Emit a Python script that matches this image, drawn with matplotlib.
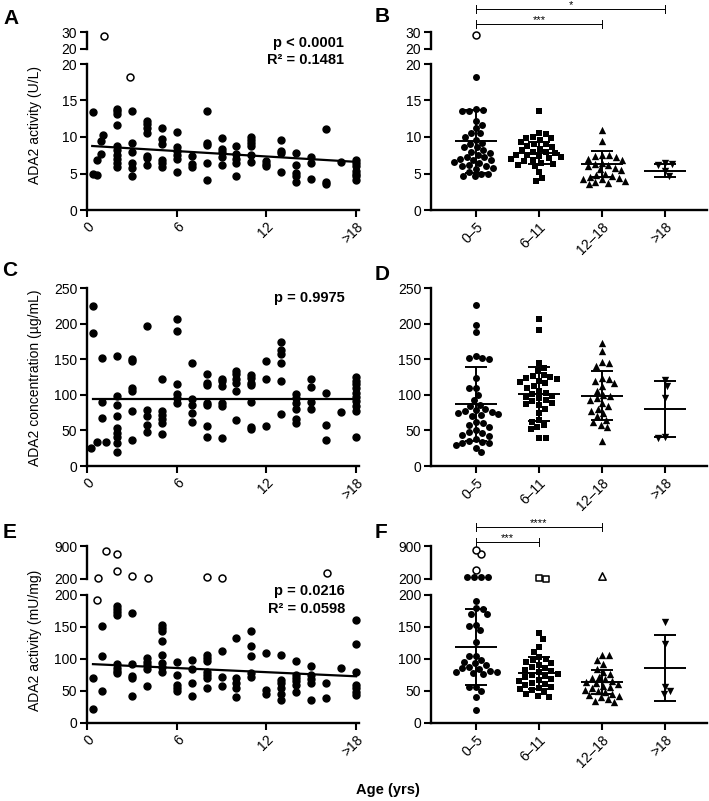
import matplotlib
matplotlib.use("Agg")
import matplotlib.pyplot as plt
import matplotlib.transforms as mtransforms
import numpy as np

plt.rcParams["font.family"] = ["Liberation Sans", "DejaVu Sans"]

W, H = 709, 801

# ---- panel A: ADA2 activity (U/L) vs age ----
a_age = [0.4, 0.4, 0.65, 0.7, 0.95, 1.05, 0.95,
         2, 2, 2, 2, 2, 2, 2, 2, 2, 2,
         3, 3, 3, 3, 3, 3,
         4, 4, 4, 4, 4, 4, 4,
         5, 5, 5, 5, 5, 5,
         6, 6, 6, 6, 6, 6,
         7, 7, 7,
         8, 8, 8, 8, 8,
         9, 9, 9, 9, 9,
         10, 10, 10, 10, 10,
         11, 11, 11, 11, 11, 11,
         12, 12, 12,
         13, 13, 13, 13,
         14, 14, 14, 14, 14,
         15, 15, 15,
         16, 16, 16,
         17,
         18, 18, 18, 18, 18, 18, 18]
a_val = [13.4, 4.9, 4.8, 6.8, 9.5, 10.3, 7.7,
         13.8, 13.5, 13.2, 11.7, 8.8, 8.2, 7.6, 7.05, 6.5, 5.9,
         13.5, 9.2, 8.0, 6.4, 5.8, 4.6,
         12.2, 11.8, 11.2, 10.6, 7.4, 7.1, 6.1,
         11.3, 9.7, 9.1, 6.85, 6.4, 5.9,
         10.7, 8.6, 8.1, 7.5, 7.0, 5.2,
         7.4, 6.3, 5.9,
         13.5, 9.2, 8.9, 6.4, 4.1,
         9.9, 8.4, 7.9, 7.3, 6.1,
         8.7, 7.7, 7.0, 6.4, 4.6,
         10.0, 9.6, 9.2, 8.8, 7.5, 6.6,
         6.75, 6.3, 6.0,
         9.6, 8.1, 7.8, 5.2,
         7.8, 6.1, 5.1, 4.6, 3.9,
         7.2, 6.4, 4.3,
         11.1, 3.9, 3.5,
         6.6,
         6.85, 6.4, 6.0, 5.4, 4.9, 4.6, 4.1]
a_open_age = [1.15, 2.9]
a_open_val = [27.8, 18.2]
a_fit = (8.81, -0.123)
a_fit_x = [0.35, 18]

# ---- panel C: ADA2 concentration vs age ----
c_age = [0.4, 0.4, 0.3, 0.7, 1.0, 1.0, 1.0, 1.25,
         2, 2, 2, 2, 2, 2, 2, 2, 2,
         3, 3, 3, 3, 3, 3,
         4, 4, 4, 4, 4,
         5, 5, 5, 5, 5, 5,
         6, 6, 6, 6, 6, 6,
         7, 7, 7, 7, 7,
         8, 8, 8, 8, 8, 8, 8,
         9, 9, 9, 9, 9, 9,
         10, 10, 10, 10, 10, 10,
         11, 11, 11, 11, 11, 11, 11,
         12, 12, 12,
         13, 13, 13, 13, 13, 13,
         14, 14, 14, 14, 14, 14,
         15, 15, 15, 15,
         16, 16, 16,
         17,
         18, 18, 18, 18, 18, 18, 18, 18, 18, 18]
c_val = [225, 187, 25, 34, 151, 90, 68, 34,
         154, 98, 86, 70, 53, 47, 41, 32, 19,
         150, 147, 110, 105, 77, 37,
         197, 79, 70, 57, 48,
         122, 77, 72, 66, 60, 45,
         206, 190, 115, 101, 96, 89,
         144, 94, 86, 74, 62,
         129, 117, 114, 89, 86, 56, 41,
         122, 119, 112, 88, 84, 40,
         134, 129, 122, 117, 105, 65,
         128, 124, 117, 114, 90, 55, 52,
         147, 122, 56,
         174, 163, 157, 145, 120, 73,
         101, 95, 89, 80, 66, 61,
         122, 111, 90, 80,
         102, 58, 37,
         76,
         125, 120, 115, 109, 103, 97, 91, 84, 77, 41]
c_fit = (94.5, 0.0)
c_fit_x = [0.4, 18]

# ---- panel E: ADA2 activity (mU/mg) vs age ----
e_age = [0.4, 0.4, 1, 1, 1,
         2, 2, 2, 2, 2, 2, 2, 2,
         3, 3, 3, 3, 3,
         4, 4, 4, 4, 4,
         5, 5, 5, 5, 5, 5, 5, 5,
         6, 6, 6, 6, 6,
         7, 7, 7, 7,
         8, 8, 8, 8, 8, 8, 8,
         9, 9, 9,
         10, 10, 10, 10, 10,
         11, 11, 11, 11, 11,
         12, 12, 12,
         13, 13, 13, 13, 13, 13,
         14, 14, 14, 14, 14, 14,
         15, 15, 15, 15, 15,
         16, 16,
         17,
         18, 18, 18, 18, 18, 18, 18]
e_val = [71, 22, 152, 105, 50,
         183, 178, 173, 168, 92, 86, 81, 78,
         172, 92, 74, 71, 42,
         101, 96, 91, 85, 58,
         153, 148, 143, 128, 107, 93, 88, 80,
         95, 75, 60, 55, 50,
         98, 85, 63, 42,
         107, 102, 97, 80, 75, 70, 54,
         112, 72, 58,
         133, 70, 62, 54, 41,
         143, 121, 104, 78, 72,
         109, 52, 46,
         107, 67, 62, 55, 46, 36,
         97, 75, 70, 65, 59, 49,
         89, 75, 69, 62, 36,
         62, 39,
         86,
         161, 123, 80, 59, 54, 49, 44]
e_open_age = [0.65, 0.75, 1.3, 2.0, 2.0, 3.0, 4.05, 8.05, 9.05, 16.05]
e_open_val = [192, 215, 800, 730, 380, 265, 230, 250, 230, 320]
e_fit = (92.4, -1.08)
e_fit_x = [0.4, 18]

# ---- grouped panels B, D, F ----
groups = ["0–5", "6–11", "12–18", ">18"]
group_markers = ["o", "s", "^", "v"]

b_05 = [18.2, 13.9, 13.7, 13.5, 13.5, 12.2, 11.7, 11.2, 10.5, 10.5, 10.0, 9.6,
        9.2, 9.0, 8.6, 8.6, 8.2, 8.0, 7.8, 7.6, 7.3, 7.2, 7.0, 6.9, 6.8, 6.6,
        6.4, 6.2, 6.0, 6.0, 5.8, 5.6, 5.2, 5.0, 4.9, 4.7, 4.6]
b_611 = [13.5, 10.6, 10.4, 10.0, 9.9, 9.8, 9.6, 9.3, 9.1, 9.0, 8.8, 8.6, 8.4,
         8.2, 8.0, 7.9, 7.8, 7.6, 7.5, 7.4, 7.3, 7.1, 7.0, 6.9, 6.7, 6.5, 6.3,
         6.2, 6.0, 5.2, 4.4, 4.0]
b_1218 = [11.0, 9.4, 7.6, 7.5, 7.4, 7.3, 7.0, 6.8, 6.5, 6.3, 6.2, 6.0, 5.8,
          5.6, 5.5, 5.0, 4.8, 4.6, 4.5, 4.4, 4.3, 4.2, 4.0, 3.8, 3.7, 3.5]
b_18 = [6.4, 6.3, 6.2, 5.3, 4.6]
b_open = [[28.0], [], [], []]
b_mean = [9.4, 7.85, 6.3, 5.4]
b_sd = [4.3, 1.5, 1.8, 0.85]

d_05 = [226, 198, 188, 155, 151, 150, 151, 123, 109, 109, 100, 92, 86, 84, 80,
        78, 77, 76, 75, 73, 72, 70, 62, 60, 58, 55, 50, 48, 46, 44, 42, 38, 35,
        34, 33, 32, 30, 25, 19]
d_611 = [207, 191, 145, 138, 133, 128, 126, 125, 124, 122, 120, 118, 116, 113,
         110, 105, 103, 101, 99, 97, 95, 93, 91, 89, 87, 85, 80, 75, 65, 62, 58,
         55, 52, 40, 40]
d_1218 = [173, 162, 146, 145, 140, 124, 122, 120, 116, 112, 105, 100, 98, 95,
          92, 88, 84, 80, 77, 74, 70, 65, 62, 58, 55, 35]
d_18 = [121, 112, 96, 41, 40]
d_mean = [87, 101, 99, 80]
d_sd = [52, 38, 35, 39]

f_05 = [250, 236, 234, 246, 190, 179, 178, 171, 170, 153, 152, 145, 127, 105,
        104, 98, 96, 93, 90, 88, 86, 84, 82, 80, 79, 78, 76, 57, 56, 50, 41, 20]
f_611 = [141, 132, 119, 111, 103, 100, 98, 95, 93, 90, 87, 86, 83, 81, 79, 77,
         75, 73, 72, 69, 67, 66, 63, 61, 60, 57, 55, 53, 51, 48, 45, 42, 40]
f_1218 = [107, 106, 99, 92, 85, 80, 76, 72, 70, 68, 66, 64, 62, 61, 58, 56, 54,
          52, 50, 48, 46, 44, 42, 40, 38, 35, 33]
f_18 = [158, 123, 57, 50, 46]
f_open = [[730, 815, 390], [205, 228], [270], []]
f_mean = [119, 78, 64, 86]
f_sd = [59, 25, 19, 51]


def box(x0, y0, x1, y1):
    return [x0 / W, 1 - y1 / H, (x1 - x0) / W, (y1 - y0) / H]


def style(ax, ylim, yticks, upper=False):
    ax.set_ylim(*ylim)
    ax.set_yticks(yticks)
    ax.patch.set_alpha(0)
    for s in ["top", "right"]:
        ax.spines[s].set_visible(False)
    for s in ["left", "bottom"]:
        ax.spines[s].set_linewidth(1.7)
    ax.tick_params(width=1.5, length=5, labelsize=10, pad=2)
    if upper:
        ax.spines["bottom"].set_visible(False)
        ax.set_xticks([])


def rot_labels(ax, ticks, labels):
    ax.set_xticks(ticks)
    ax.set_xticklabels(labels, rotation=45, ha="right", rotation_mode="anchor")


def age_panel(lo, up, ages, vals, open_ages, open_vals, ylim, yticks,
              ylim_up, yticks_up, fit, fit_x):
    ax = fig.add_axes(box(*lo))
    ax.set_xlim(0, 18.2)
    style(ax, ylim, yticks)
    rot_labels(ax, [0, 6, 12, 18], ["0", "6", "12", ">18"])
    ax.scatter(ages, vals, s=25, color="black", zorder=3, clip_on=False)
    oa = np.array(open_ages)
    ov = np.array(open_vals)
    low = ov <= ylim[1]
    ax.scatter(oa[low], ov[low], s=25, facecolor="white", edgecolor="black",
               linewidth=1.1, zorder=3, clip_on=False)
    fx = np.array(fit_x)
    ax.plot(fx, fit[0] + fit[1] * fx, color="black", lw=1.6, zorder=4)
    axu = None
    if up is not None:
        axu = fig.add_axes(box(*up))
        axu.set_xlim(0, 18.2)
        style(axu, ylim_up, yticks_up, upper=True)
        axu.scatter(oa[~low], ov[~low], s=25, facecolor="white",
                    edgecolor="black", linewidth=1.1, zorder=3, clip_on=False)
    return ax, axu


def pick_offset(y, placed, diam, first):
    near = [(px, py) for px, py in placed if abs(py - y) < diam]
    for k in range(400):
        cands = [0.0] if k == 0 else [first * k * 0.5, -first * k * 0.5]
        for cand in cands:
            if all((cand - px) ** 2 + (y - py) ** 2 >= diam ** 2 for px, py in near):
                return cand
    return 0.0


def swarm(ax, center, vals, diam=6.8):
    vals = np.asarray(vals, dtype=float)
    pts = np.column_stack([np.full(len(vals), center), vals])
    ypx = ax.transData.transform(pts)[:, 1]
    xs = np.zeros(len(vals))
    placed = []
    side = 1
    for i in np.argsort(-ypx):
        xs[i] = pick_offset(ypx[i], placed, diam, side)
        if xs[i] != 0:
            side = -np.sign(xs[i])
        placed.append((xs[i], ypx[i]))
    unit = ax.transData.transform((center + 1, 0))[0] - ax.transData.transform((center, 0))[0]
    return center + xs / unit


def group_panel(lo, up, data, opens, means, sds, ylim, yticks, ylim_up, yticks_up):
    ax = fig.add_axes(box(*lo))
    ax.set_xlim(-0.714, 3.667)
    style(ax, ylim, yticks)
    rot_labels(ax, range(4), groups)
    axu = None
    if up is not None:
        axu = fig.add_axes(box(*up))
        axu.set_xlim(-0.714, 3.667)
        style(axu, ylim_up, yticks_up, upper=True)
    for i, (vals, op, m) in enumerate(zip(data, opens, group_markers)):
        vals = np.asarray(vals, dtype=float)
        op = np.asarray(op, dtype=float)
        allv = np.concatenate([vals, op])
        is_open = np.r_[np.zeros(len(vals), bool), np.ones(len(op), bool)]
        high = allv > ylim[1]
        size = 22 if m == "s" else (28 if m in "^v" else 25)
        for sel, target in [(~high, ax), (high, axu)]:
            if not sel.any():
                continue
            xs = swarm(target, i, allv[sel])
            o = is_open[sel]
            target.scatter(xs[~o], allv[sel][~o], s=size, marker=m, color="black",
                           zorder=3, clip_on=False, linewidths=0)
            target.scatter(xs[o], allv[sel][o], s=size, marker=m, facecolor="white",
                           edgecolor="black", linewidth=1.1, zorder=3, clip_on=False)
        mean, sd = means[i], sds[i]
        ax.hlines(mean, i - 0.33, i + 0.33, color="black", lw=1.4, zorder=5)
        ax.vlines(i, mean - sd, mean + sd, color="black", lw=1.4, zorder=5)
        ax.hlines([mean - sd, mean + sd], i - 0.175, i + 0.175, color="black",
                  lw=1.4, zorder=5)
    return ax, axu


def bracket(ax, x0, x1, ypx, label):
    tr = mtransforms.blended_transform_factory(ax.transData, fig.transFigure)
    yf = 1 - ypx / H
    d = 4 / H
    ax.plot([x0, x1], [yf, yf], transform=tr, color="black", lw=0.7, clip_on=False)
    for x in (x0, x1):
        ax.plot([x, x], [yf - d, yf + d], transform=tr, color="black", lw=0.7,
                clip_on=False)
    ax.text((x0 + x1) / 2, yf - 1.5 / H, label, transform=tr, ha="center",
            va="bottom", fontsize=8)


fig = plt.figure(figsize=(W / 100, H / 100), dpi=100)

age_panel((87, 64, 359, 210), (87, 32, 359, 49), a_age, a_val, a_open_age,
          a_open_val, (0, 20), [0, 5, 10, 15, 20], (20, 30), [20, 30], a_fit, a_fit_x)
age_panel((87, 288, 359, 466), None, c_age, c_val, [], [], (0, 250),
          [0, 50, 100, 150, 200, 250], None, None, c_fit, c_fit_x)
age_panel((87, 595, 359, 723), (87, 546, 359, 579), e_age, e_val, e_open_age,
          e_open_val, (0, 200), [0, 50, 100, 150, 200], (200, 900), [200, 900],
          e_fit, e_fit_x)

axb, _ = group_panel((431, 64, 707, 210), (431, 32, 707, 49),
                     [b_05, b_611, b_1218, b_18], b_open, b_mean, b_sd,
                     (0, 20), [0, 5, 10, 15, 20], (20, 30), [20, 30])
group_panel((431, 288, 707, 466), None, [d_05, d_611, d_1218, d_18],
            [[], [], [], []], d_mean, d_sd, (0, 250), [0, 50, 100, 150, 200, 250],
            None, None)
axf, _ = group_panel((431, 595, 707, 723), (431, 546, 707, 579),
                     [f_05, f_611, f_1218, f_18], f_open, f_mean, f_sd,
                     (0, 200), [0, 50, 100, 150, 200], (200, 900), [200, 900])

bracket(axb, 0, 3, 9, "*")
bracket(axb, 0, 2, 24, "***")
bracket(axf, 0, 2, 527, "****")
bracket(axf, 0, 1, 542, "***")

# stats text
fig.text(344 / W, 1 - 43 / H, "p < 0.0001", ha="right", va="center",
         fontsize=10.5, fontweight="bold")
fig.text(344 / W, 1 - 60 / H, "R² = 0.1481", ha="right", va="center",
         fontsize=10.5, fontweight="bold")
fig.text(345 / W, 1 - 298 / H, "p = 0.9975", ha="right", va="center",
         fontsize=10.5, fontweight="bold")
fig.text(345 / W, 1 - 591 / H, "p = 0.0216", ha="right", va="center",
         fontsize=10.5, fontweight="bold")
fig.text(345 / W, 1 - 609 / H, "R² = 0.0598", ha="right", va="center",
         fontsize=10.5, fontweight="bold")

# y labels
fig.text(35 / W, 1 - 125 / H, "ADA2 activity (U/L)", rotation=90, ha="center",
         va="center", fontsize=10)
fig.text(35 / W, 1 - 378 / H, "ADA2 concentration (µg/mL)", rotation=90,
         ha="center", va="center", fontsize=10)
fig.text(35 / W, 1 - 640 / H, "ADA2 activity (mU/mg)", rotation=90, ha="center",
         va="center", fontsize=10)

fig.text(388 / W, 1 - 790 / H, "Age (yrs)", ha="center", va="center",
         fontsize=10.5, fontweight="bold")

# panel letters
for letter, x, y in [("A", 3, 19), ("B", 375, 17), ("C", 2, 270),
                     ("D", 375, 275), ("E", 3, 533), ("F", 375, 533)]:
    fig.text(x / W, 1 - y / H, letter, ha="left", va="center", fontsize=15,
             fontweight="bold")

fig.savefig("out.png", dpi=100)
